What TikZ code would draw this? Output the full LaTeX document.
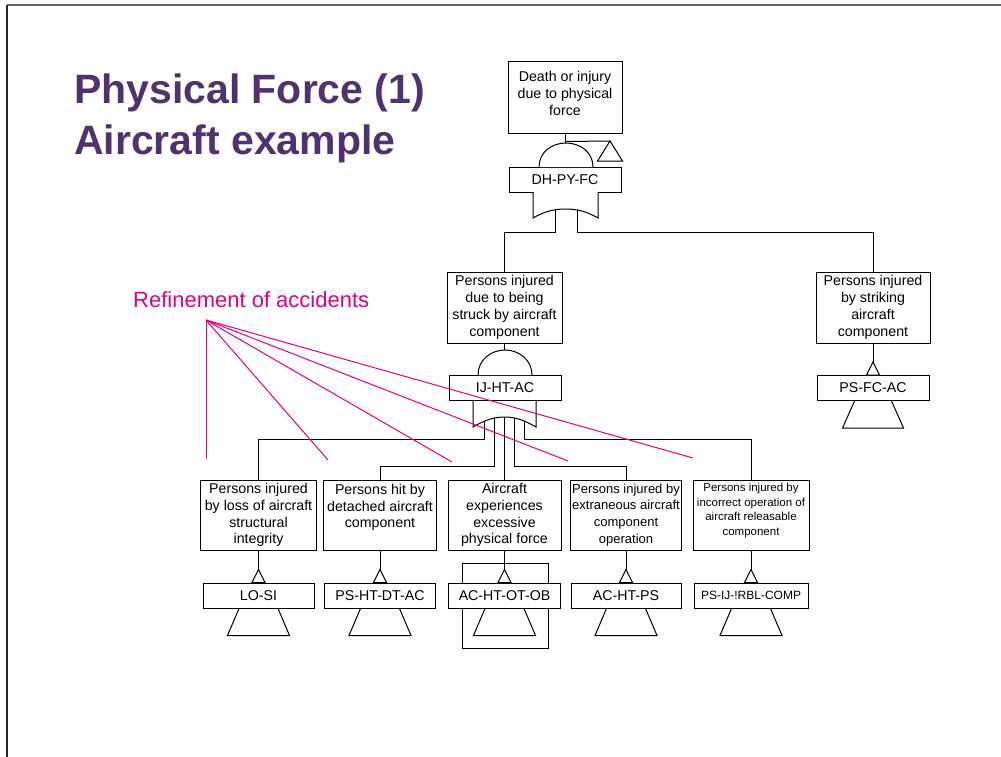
\documentclass[tikz,border=0pt]{standalone}
\usepackage{fontspec}
\setmainfont{Liberation Sans}
\usetikzlibrary{calc}
\definecolor{titlepurple}{RGB}{80,50,110}
\definecolor{accentpink}{RGB}{228,0,124}
\newcommand\evfont{\fontsize{14.2}{16.8}\selectfont}
\newcommand\narrowevfont{\fontsize{13}{16.8}\selectfont}
\newcommand\smallevfont{\fontsize{11.5}{14.8}\selectfont}
\newcommand\smallcodefont{\fontsize{12}{14}\selectfont}

\begin{document}
\begin{tikzpicture}[x=1pt,y=-1pt,
  tree/.style={draw=black, line width=1pt},
  evbox/.style={draw=black, line width=1pt, fill=white, inner sep=0pt,
                align=center, font=\evfont, minimum height=71pt},
  evtext/.style={align=center, inner sep=0pt, font=\evfont},
  codebox/.style={draw=black, line width=1pt, fill=white, inner sep=0pt,
                  minimum height=25pt, font=\evfont},
  gate/.style={draw=black, line width=1pt, fill=white},
  refline/.style={draw=accentpink, line width=1pt},
]
\useasboundingbox (0,0) rectangle (1001,757);

% page frame
\draw[line width=1.2pt, draw=black!60] (7,5) -- (1001,5);
\draw[line width=1.2pt, draw=black!85] (7,5) -- (7,757);

% title
\node[anchor=base west, inner sep=0pt, text=titlepurple,
      font=\bfseries\fontsize{41}{48}\selectfont] (title1) at (74,103.5) {Physical Force (1)};
\node[anchor=base west, inner sep=0pt, text=titlepurple,
      font=\bfseries\fontsize{41}{48}\selectfont] (title2) at (74,154.5) {Aircraft example};

% house frame around the AC-HT-OT-OB transfer
\draw[tree] (462,563) rectangle (548,648);

% top event
\node[evbox, minimum width=114pt, minimum height=72pt] (top) at (565,98) {};
\node[evtext, yshift=4.5pt] (topT) at (top.center) {Death or injury\\due to physical\\force};
\node[codebox, minimum width=112pt] (dh) at (565,179.5) {DH-PY-FC};

% second level
\node[evbox, minimum width=115pt] (mid) at (504.5,307.5) {Persons injured\\due to being\\struck by aircraft\\component};
\node[codebox, minimum width=112pt] (ij) at (505,388) {IJ-HT-AC};
\node[evbox, minimum width=114pt] (rt) at (873,307.5) {Persons injured\\by striking\\aircraft\\component};
\node[codebox, minimum width=112pt] (rc) at (873,388) {PS-FC-AC};

% third level
\node[evbox, minimum width=116pt, minimum height=70pt] (b1) at (258.5,515) {Persons injured\\by loss of aircraft\\structural\\integrity};
\node[evbox, minimum width=113pt, minimum height=70pt] (b2) at (380,515) {};
\node[evtext, yshift=7.5pt] (b2T) at (b2.center) {Persons hit by\\detached aircraft\\component};
\node[evbox, minimum width=113pt, minimum height=70pt] (b3) at (504.5,515) {Aircraft\\experiences\\excessive\\physical force};
\node[evbox, minimum width=111pt, minimum height=70pt, font=\narrowevfont] (b4) at (626,515) {Persons injured by\\extraneous aircraft\\component\\operation};
\node[evbox, minimum width=116pt, minimum height=70pt] (b5) at (751,515) {};
\node[evtext, font=\smallevfont, yshift=4.5pt] (b5T) at (b5.center) {Persons injured by\\incorrect operation of\\aircraft releasable\\component};

\node[codebox, minimum width=111pt] (c1) at (258.5,595.5) {LO-SI};
\node[codebox, minimum width=111pt] (c2) at (380,595.5) {PS-HT-DT-AC};
\node[codebox, minimum width=112pt] (c3) at (504.5,595.5) {AC-HT-OT-OB};
\node[codebox, minimum width=110pt] (c4) at (626,595.5) {AC-HT-PS};
\node[codebox, minimum width=114pt, font=\smallcodefont] (c5) at (751,595.5) {PS-IJ-!RBL-COMP};

% top gate: AND with transfer-out triangle
\draw[tree] (top.south) -- ($(top.south)+(0,9)$);
\coordinate (dhT) at (610,141);
\draw[tree] ($(top.south)+(0,7)$) -- (dhT);
\draw[tree] (dhT) -- ++(-12.5,20) -- ++(25,0) -- cycle;
\draw[gate] (539,167) .. controls (539,152) and (552,143) .. (566,143)
            .. controls (580,143) and (593,152) .. (593,167);

% OR gate below DH-PY-FC and its branches
\coordinate (dhL) at (555,205);
\coordinate (dhR) at (577,205);
\draw[tree] (dhL) -- (555,232) -| (mid.north);
\draw[tree] (dhR) -- (577,232) -| (rt.north);
\draw[gate] (533,192) -- (533,218) .. controls (545,211) and (555,209) .. (565.5,209)
            .. controls (576,209) and (586,211) .. (598,218) -- (598,192);

% AND gate above IJ-HT-AC
\draw[tree] (mid.south) -- ($(mid.south)+(0,8)$);
\draw[gate] (478,375) .. controls (478,360) and (491,350) .. (505,350)
            .. controls (519,350) and (532,360) .. (532,375);

% OR gate below IJ-HT-AC and its five branches
\coordinate (g1) at (484,412);
\coordinate (g2) at (494,412);
\coordinate (g3) at (504.5,412);
\coordinate (g4) at (514,412);
\coordinate (g5) at (524,412);
\draw[tree] (g1) -- (484,439) -| (b1.north);
\draw[tree] (g2) -- (494,466) -| (b2.north);
\draw[tree] (g3) -- (b3.north);
\draw[tree] (g4) -- (514,466) -| (b4.north);
\draw[tree] (g5) -- (524,439) -| (b5.north);
\draw[gate] (473,401) -- (473,427) .. controls (485,420) and (494,417) .. (504.5,417)
            .. controls (515,417) and (524,420) .. (536,427) -- (536,401);

% transfer-in triangles under the basic events
\foreach \e/\c in {b1/c1,b2/c2,b3/c3,b4/c4,b5/c5,rt/rc} {
  \draw[tree] (\e.south) -- ($(\c.north)+(0,-13)$);
  \draw[tree] ($(\c.north)+(0,-13)$) -- ++(-6.5,13) -- ++(13,0) -- cycle;
}
\foreach \c in {c1,c2,c3,c4,c5} {
  \draw[tree] ($(\c.south)+(-19.5,0)$) -- ++(-11.5,27) -- ++(62,0) -- ++(-11.5,-27);
}
\draw[tree] ($(rc.south)+(-18.5,0)$) -- ++(-12,27) -- ++(61,0) -- ++(-12,-27);

% annotation
\node[anchor=base west, inner sep=0pt, text=accentpink,
      font=\fontsize{22}{24}\selectfont] (refT) at (133,307) {Refinement of accidents};
\coordinate (refO) at (206,320);
\coordinate (r1) at (206,459);
\coordinate (r2) at (328,460);
\coordinate (r3) at (452,462);
\coordinate (r4) at (568,461);
\coordinate (r5) at (693,458);
\foreach \r in {r1,r2,r3,r4,r5} {
  \draw[refline] (refO) -- (\r);
}
\end{tikzpicture}
\end{document}
